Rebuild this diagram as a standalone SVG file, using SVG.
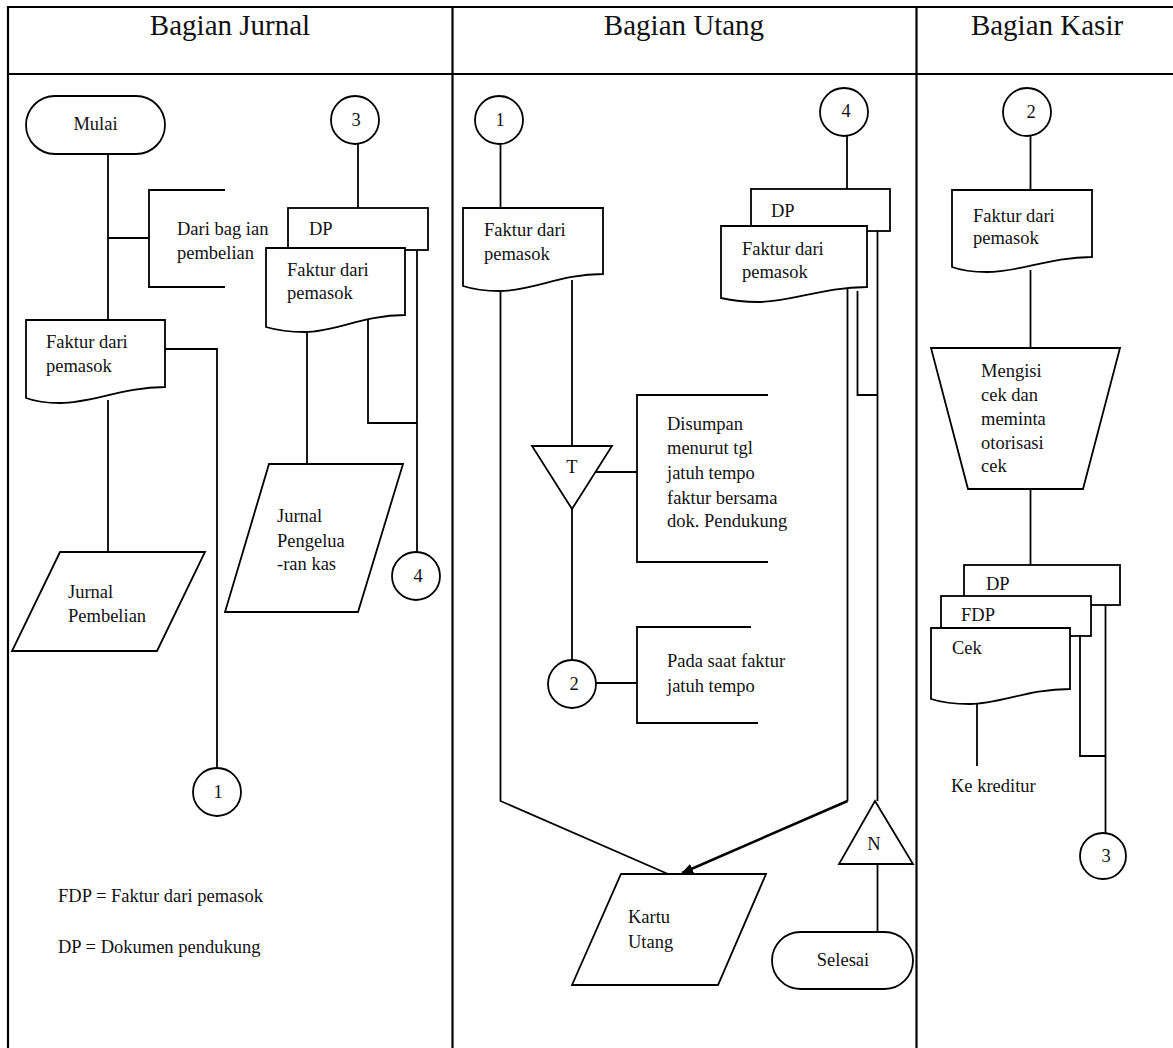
<svg xmlns="http://www.w3.org/2000/svg" width="1173" height="1048" viewBox="0 0 1173 1048">
<defs>
<style>
.frame{fill:none;stroke:#000;stroke-width:2.2}
.s{fill:#fff;stroke:#000;stroke-width:1.8}
.ln{fill:none;stroke:#000;stroke-width:1.8}
.t{font-family:"Liberation Serif","Times New Roman",serif;font-size:18.5px;fill:#111}
.c{text-anchor:middle}
.h{font-family:"Liberation Serif","Times New Roman",serif;font-size:29px;fill:#111;text-anchor:middle}
</style>
<marker id="arr" markerWidth="12" markerHeight="10" refX="11" refY="5" orient="auto" markerUnits="userSpaceOnUse">
<path d="M0,0 L12,5 L0,10 Z" fill="#000"/>
</marker>
</defs>
<rect width="1173" height="1048" fill="#fff"/>
<g id="frame">
<line class="frame" x1="8" y1="7" x2="1173" y2="7"/>
<line class="frame" x1="8" y1="74" x2="1173" y2="74"/>
<line class="frame" x1="8" y1="6" x2="8" y2="1048"/>
<line class="frame" x1="452.5" y1="6" x2="452.5" y2="1048"/>
<line class="frame" x1="916.5" y1="6" x2="916.5" y2="1048"/>
<text class="h" x="230" y="35">Bagian Jurnal</text>
<text class="h" x="684" y="35">Bagian Utang</text>
<text class="h" x="1047" y="35">Bagian Kasir</text>
</g>
<g id="connectors">
<line class="ln" x1="108" y1="154" x2="108" y2="320"/>
<line class="ln" x1="108" y1="238" x2="149" y2="238"/>
<polyline class="ln" points="225,190 149,190 149,287 225,287"/>
<line class="ln" x1="108" y1="400" x2="108" y2="552"/>
<polyline class="ln" points="165,349 217,349 217,768"/>
<line class="ln" x1="358" y1="144" x2="358" y2="208"/>
<line class="ln" x1="417" y1="250" x2="417" y2="552"/>
<polyline class="ln" points="368,316 368,423 417,423"/>
<line class="ln" x1="307" y1="332" x2="307" y2="464"/>
<line class="ln" x1="500.5" y1="143" x2="500.5" y2="208"/>
<polyline class="ln" points="500.5,291 500.5,801 668,874"/>
<line class="ln" x1="572" y1="280" x2="572" y2="446"/>
<line class="ln" x1="595" y1="472" x2="637" y2="472"/>
<polyline class="ln" points="768,395 637,395 637,562 768,562"/>
<line class="ln" x1="572" y1="509" x2="572" y2="660"/>
<line class="ln" x1="596" y1="683" x2="637" y2="683"/>
<polyline class="ln" points="751,627 637,627 637,723 758,723"/>
<line class="ln" x1="847" y1="135" x2="847" y2="189"/>
<polyline class="ln" points="847.5,288 847.5,801"/>
<line x1="847.5" y1="801" x2="682" y2="873" stroke="#000" stroke-width="2.6" marker-end="url(#arr)"/>
<polyline class="ln" points="857.5,291 857.5,395 877.5,395"/>
<line class="ln" x1="877.5" y1="227" x2="877.5" y2="801"/>
<line class="ln" x1="877.5" y1="864" x2="877.5" y2="932"/>
<line class="ln" x1="1030.5" y1="136" x2="1030.5" y2="190"/>
<line class="ln" x1="1030.5" y1="270" x2="1030.5" y2="348"/>
<line class="ln" x1="1030.5" y1="489" x2="1030.5" y2="565"/>
<line class="ln" x1="977" y1="704" x2="977" y2="766"/>
<polyline class="ln" points="1080,636 1080,756 1105.5,756"/>
<line class="ln" x1="1105.5" y1="605" x2="1105.5" y2="833"/>
</g>
<g id="mulai">
<rect class="s" x="26" y="96" width="139" height="58" rx="29"/>
<text class="t c" x="95.5" y="130">Mulai</text>
</g>
<g id="note-pembelian">
<text class="t" x="177" y="235">Dari bag ian</text>
<text class="t" x="177" y="259">pembelian</text>
</g>
<g id="faktur-jurnal">
<path class="s" d="M26,320 H165 V387 C123,387 92,403 60,403 C45,403 34,401 26,398 Z"/>
<text class="t" x="46" y="348">Faktur dari</text>
<text class="t" x="46" y="372">pemasok</text>
</g>
<g id="jurnal-pembelian">
<polygon class="s" points="60,552 205,552 157,651 12,651"/>
<text class="t" x="68" y="598">Jurnal</text>
<text class="t" x="68" y="622">Pembelian</text>
</g>
<g id="conn-1-jurnal">
<circle class="s" cx="217" cy="792" r="24"/>
<text class="t c" x="218" y="798">1</text>
</g>
<g id="conn-3-jurnal">
<circle class="s" cx="355" cy="120" r="24"/>
<text class="t c" x="356" y="126">3</text>
</g>
<g id="dp-jurnal">
<rect class="s" x="288" y="208" width="140" height="42"/>
<text class="t" x="309" y="235">DP</text>
</g>
<g id="faktur-jurnal-2">
<path class="s" d="M266,248 H405 V315 C363,315 335,332 305,332 C288,332 276,330 266,327 Z"/>
<text class="t" x="287" y="276">Faktur dari</text>
<text class="t" x="287" y="299">pemasok</text>
</g>
<g id="jurnal-pengeluaran">
<polygon class="s" points="269,464 403,464 358,612 225,612"/>
<text class="t" x="277" y="522">Jurnal</text>
<text class="t" x="277" y="547">Pengelua</text>
<text class="t" x="277" y="570">-ran kas</text>
</g>
<g id="conn-4-jurnal">
<circle class="s" cx="416" cy="576" r="24"/>
<text class="t c" x="418" y="582">4</text>
</g>
<g id="legend">
<text class="t" x="58" y="902">FDP = Faktur dari pemasok</text>
<text class="t" x="58" y="953">DP = Dokumen pendukung</text>
</g>
<g id="conn-1-utang">
<circle class="s" cx="499" cy="120" r="24"/>
<text class="t c" x="500" y="126">1</text>
</g>
<g id="faktur-utang">
<path class="s" d="M463,208 H603 V274 C561,274 532,291 500,291 C484,291 472,289 463,286 Z"/>
<text class="t" x="484" y="236">Faktur dari</text>
<text class="t" x="484" y="260">pemasok</text>
</g>
<g id="file-t">
<polygon class="s" points="532,446 612,446 572,509"/>
<text class="t c" x="572" y="473">T</text>
</g>
<g id="note-disumpan">
<text class="t" x="667" y="430">Disumpan</text>
<text class="t" x="667" y="454">menurut tgl</text>
<text class="t" x="667" y="479">jatuh tempo</text>
<text class="t" x="667" y="504">faktur bersama</text>
<text class="t" x="667" y="527">dok. Pendukung</text>
</g>
<g id="conn-2-utang">
<circle class="s" cx="572" cy="684" r="24"/>
<text class="t c" x="574" y="690">2</text>
</g>
<g id="note-jatuh-tempo">
<text class="t" x="667" y="667">Pada saat faktur</text>
<text class="t" x="667" y="692">jatuh tempo</text>
</g>
<g id="conn-4-utang">
<circle class="s" cx="844" cy="112" r="24"/>
<text class="t c" x="846" y="117">4</text>
</g>
<g id="dp-utang">
<rect class="s" x="751" y="189" width="139" height="42"/>
<text class="t" x="771" y="217">DP</text>
</g>
<g id="faktur-utang-2">
<path class="s" d="M721,226 H867 V287 C823,287 792,302 758,302 C741,302 730,300 721,298 Z"/>
<text class="t" x="742" y="255">Faktur dari</text>
<text class="t" x="742" y="278">pemasok</text>
</g>
<g id="kartu-utang">
<polygon class="s" points="621,874 766,874 718,985 572,985"/>
<text class="t" x="628" y="923">Kartu</text>
<text class="t" x="628" y="948">Utang</text>
</g>
<g id="file-n">
<polygon class="s" points="875,801 913,864 839,864"/>
<text class="t c" x="874" y="850">N</text>
</g>
<g id="selesai">
<rect class="s" x="772" y="932" width="141" height="57" rx="28.5"/>
<text class="t c" x="843" y="966">Selesai</text>
</g>
<g id="conn-2-kasir">
<circle class="s" cx="1027" cy="112" r="24"/>
<text class="t c" x="1031" y="118">2</text>
</g>
<g id="faktur-kasir">
<path class="s" d="M952,190 H1092 V257 C1050,257 1020,272 987,272 C970,272 960,270 952,267 Z"/>
<text class="t" x="973" y="222">Faktur dari</text>
<text class="t" x="973" y="244">pemasok</text>
</g>
<g id="mengisi-cek">
<polygon class="s" points="931,348 1120,348 1083,489 968,489"/>
<text class="t" x="981" y="377">Mengisi</text>
<text class="t" x="981" y="401">cek dan</text>
<text class="t" x="981" y="425">meminta</text>
<text class="t" x="981" y="449">otorisasi</text>
<text class="t" x="981" y="472">cek</text>
</g>
<g id="dp-kasir">
<rect class="s" x="964" y="565" width="156" height="40"/>
<text class="t" x="986" y="590">DP</text>
</g>
<g id="fdp-kasir">
<rect class="s" x="941" y="596" width="150" height="40"/>
<text class="t" x="961" y="621">FDP</text>
</g>
<g id="cek">
<path class="s" d="M931,628 H1070 V689 C1028,689 1000,704 970,704 C953,704 940,702 931,699 Z"/>
<text class="t" x="952" y="654">Cek</text>
</g>
<g id="ke-kreditur">
<text class="t" x="951" y="792">Ke kreditur</text>
</g>
<g id="conn-3-kasir">
<circle class="s" cx="1103" cy="856" r="23"/>
<text class="t c" x="1106" y="862">3</text>
</g>
</svg>
